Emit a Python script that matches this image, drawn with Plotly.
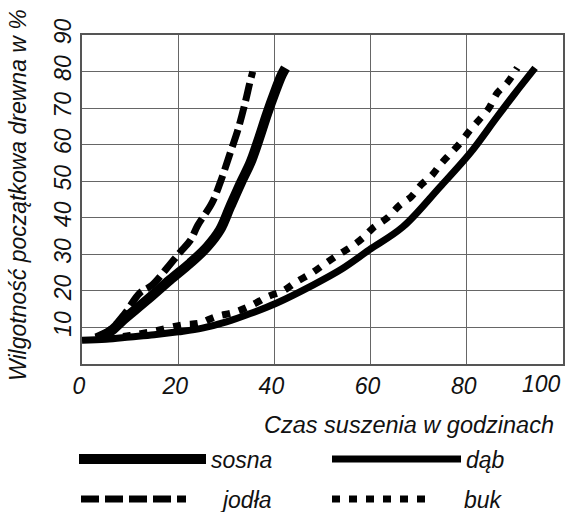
import plotly.graph_objects as go

# ---- data ----
sosna_x = [3, 6, 8.5, 13.5, 18.3, 22.5, 26, 28.7, 30.8, 33, 35, 36.5, 38.5, 40, 41.5, 42.3]
sosna_y = [7, 9, 12, 17.5, 23, 27.6, 32, 36.7, 43, 49.5, 55, 60.5, 68.5, 74, 79, 81]

jodla_x = [3, 6, 9, 12, 14.5, 17.7, 20.4, 22.5, 24.1, 27, 28.7, 30.8, 32.4, 33.9, 34.9, 35.5]
jodla_y = [7, 9.5, 14, 19.4, 21.5, 26.3, 30.6, 33.8, 38, 44, 49.5, 57.7, 64, 71.4, 77, 80]

dab_x = [0, 5, 10, 15, 20, 25, 30, 35, 40.5, 48, 54, 59.7, 66.7, 74.4, 80.7, 86.3, 90, 94.2]
dab_y = [6.5, 6.8, 7.4, 8, 8.8, 9.8, 11.5, 13.8, 16.7, 21.6, 26, 31.2, 37.5, 48.4, 57.7, 67.6, 74, 81]

buk_x = [5, 10, 15, 20.8, 24.5, 27.7, 31.8, 35.3, 38.7, 41.8, 44.5, 47.8, 50.7, 53.2, 55.9,
         58.4, 60.5, 63.4, 66.1, 68.4, 70.5, 72.8, 74.4, 76.1, 78.6, 80.7, 82.5, 84.6, 86.3, 88.4, 90.5]
buk_y = [7, 7.8, 9, 10.7, 11.2, 12.9, 14.2, 16.1, 18.5, 20, 22.4, 24.9, 27.6, 29.8, 32,
         34.5, 37.2, 39.9, 43.5, 45.7, 49, 51.7, 54.4, 56.9, 60.4, 64, 66.7, 70, 74.1, 76.9, 81]

x_ticks = [0, 20, 40, 60, 80, 100]
x_tick_text = ["0", "20", "40", "60", "80", ""]
x_last_label = "100"
y_ticks = [10, 20, 30, 40, 50, 60, 70, 80, 90]

x_title = "Czas suszenia w godzinach"
y_title = "Wilgotność początkowa drewna w %"

NB = "\u00a0"
FONT = "Liberation Sans, Arial, sans-serif"
TXT = "#111111"

fig = go.Figure()

fig.add_trace(go.Scatter(x=dab_x, y=dab_y, mode="lines", name="dąb",
                         line=dict(color="black", width=7, shape="spline"),
                         legend="legend2"))
fig.add_trace(go.Scatter(x=buk_x, y=buk_y, mode="lines", name=NB * 5 + "buk",
                         line=dict(color="black", width=7, dash="8px,9px", shape="spline"),
                         legend="legend4"))
fig.add_trace(go.Scatter(x=sosna_x, y=sosna_y, mode="lines", name="sosna",
                         line=dict(color="black", width=10, shape="spline"),
                         legend="legend"))
fig.add_trace(go.Scatter(x=jodla_x, y=jodla_y, mode="lines", name=NB * 5 + "jodła",
                         line=dict(color="black", width=7, dash="18px,6px", shape="spline"),
                         legend="legend3"))

legfont = dict(family=FONT, size=23, color=TXT, style="italic")
PL, PW, PT, PB = 82, 481, 35, 364
PH = PB - PT


def lx(px):
    return (px - PL) / PW


def ly(py):
    return (PB - py) / PH


common = dict(font=legfont, bgcolor="rgba(0,0,0,0)", xanchor="left", yanchor="middle",
              orientation="h", borderwidth=0)
tfont = dict(family=FONT, size=23, color=TXT, style="italic")

fig.update_layout(
    width=567, height=512,
    margin=dict(l=PL, r=567 - PL - PW, t=PT, b=512 - PB, autoexpand=False),
    paper_bgcolor="white", plot_bgcolor="white",
    font=dict(family=FONT, size=23, color=TXT, style="italic"),
    showlegend=True,
    legend=dict(x=lx(74), y=ly(459), itemwidth=127, **common),
    legend2=dict(x=lx(327), y=ly(459), itemwidth=129, **common),
    legend3=dict(x=lx(76), y=ly(499), itemwidth=105, **common),
    legend4=dict(x=lx(327), y=ly(499), itemwidth=95, **common),
    xaxis=dict(range=[0, 100], tickvals=x_ticks, ticktext=x_tick_text,
               showgrid=True, gridcolor="#666666", gridwidth=1.3,
               showline=True, linecolor="#555555", linewidth=2, mirror=True,
               zeroline=False, ticks="", fixedrange=True, ticklabelshift=-3,
               tickfont=tfont),
    yaxis=dict(range=[0, 90], tickvals=y_ticks, ticktext=[str(v) for v in y_ticks],
               showgrid=True, gridcolor="#666666", gridwidth=1.3,
               showline=True, linecolor="#555555", linewidth=2, mirror=True,
               zeroline=False, ticks="", tickangle=-90, fixedrange=True,
               tickfont=tfont),
    annotations=[
        dict(text=x_last_label, xref="x", yref="paper", x=x_ticks[-1], y=ly(384),
             xanchor="right", yanchor="middle", showarrow=False, font=tfont),
        dict(text=x_title, xref="paper", yref="paper", x=lx(556), y=ly(425),
             xanchor="right", yanchor="middle", showarrow=False,
             font=dict(family=FONT, size=23.5, color=TXT, style="italic")),
        dict(text=y_title, xref="paper", yref="paper", x=lx(18), y=ly(195),
             xanchor="center", yanchor="middle", textangle=-90, showarrow=False,
             font=dict(family=FONT, size=23, color=TXT, style="italic")),
    ],
)

fig.write_html("out.html", post_script="document.body.style.margin='0';",
               config={"displayModeBar": False})
